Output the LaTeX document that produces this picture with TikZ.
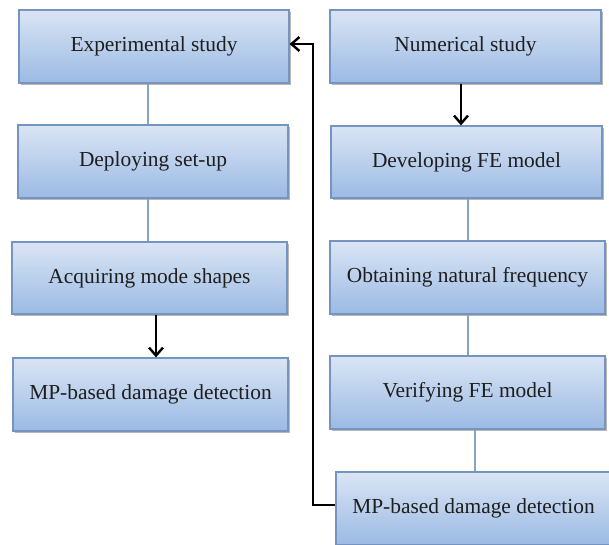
\documentclass[tikz,border=0pt]{standalone}
\usepackage{fontspec}
\setmainfont{Liberation Serif}
\usetikzlibrary{arrows.meta,shadows}
\definecolor{boxtop}{HTML}{DAE5F4}
\definecolor{boxbot}{HTML}{9BBAE4}
\definecolor{boxline}{HTML}{7594C0}
\definecolor{thinline}{HTML}{86A5C0}
\definecolor{txt}{HTML}{1E1E1E}
\tikzset{
  flowbox/.style={rectangle, draw=boxline, line width=1.2pt, top color=boxtop, bottom color=boxbot,
    inner sep=0pt, text=txt, font=\fontsize{21.4}{25}\selectfont,
    drop shadow={shadow xshift=1.5pt, shadow yshift=-1.5pt, opacity=0.4, fill=black!70}},
  thin/.style={draw=thinline, line width=1.3pt},
  thick/.style={draw=black, line width=2.6pt, -{Straight Barb[length=8pt,width=14pt,line width=2.4pt]}},
}
\begin{document}
\begin{tikzpicture}[x=1pt,y=-1pt]
\useasboundingbox (0,0) rectangle (609,544);
\clip (0,0) rectangle (609,544);
\node[flowbox, minimum width=270pt, minimum height=73pt] (L1) at (154,46.5) {Experimental study};
\node[flowbox, minimum width=270pt, minimum height=73pt] (L2) at (153,161.5) {Deploying set-up};
\node[flowbox, minimum width=275pt, minimum height=72pt] (L3) at (149.5,278) {Acquiring mode shapes};
\node[flowbox, minimum width=275pt, minimum height=73pt] (L4) at (150.5,394.5) {MP-based damage detection};
\node[flowbox, minimum width=271pt, minimum height=73pt] (R1) at (465.5,46.5) {Numerical study};
\node[flowbox, minimum width=271pt, minimum height=72pt] (R2) at (466.5,162) {Developing FE model};
\node[flowbox, minimum width=275pt, minimum height=73pt] (R3) at (467.5,277.5) {Obtaining natural frequency};
\node[flowbox, minimum width=275pt, minimum height=73pt] (R4) at (467.5,392.5) {Verifying FE model};
\node[flowbox, minimum width=275pt, minimum height=73pt] (R5) at (473.5,508.5) {MP-based damage detection};
\coordinate (bend1) at (313,505);
\coordinate (bend2) at (313,44);
% thin connectors
\draw[thin] (148,0 |- L1.south) -- (148,0 |- L2.north);
\draw[thin] (148,0 |- L2.south) -- (148,0 |- L3.north);
\draw[thin] (468,0 |- R2.south) -- (468,0 |- R3.north);
\draw[thin] (468,0 |- R3.south) -- (468,0 |- R4.north);
\draw[thin] (475,0 |- R4.south) -- (475,0 |- R5.north);
% thick arrows
\draw[thick] (156,0 |- L3.south) -- (156,0 |- L4.north);
\draw[thick] (461,0 |- R1.south) -- (461,0 |- R2.north);
\draw[thick] (R5.west |- bend1) -- (bend1) -- (bend2) -- (L1.east |- bend2);
\end{tikzpicture}
\end{document}
